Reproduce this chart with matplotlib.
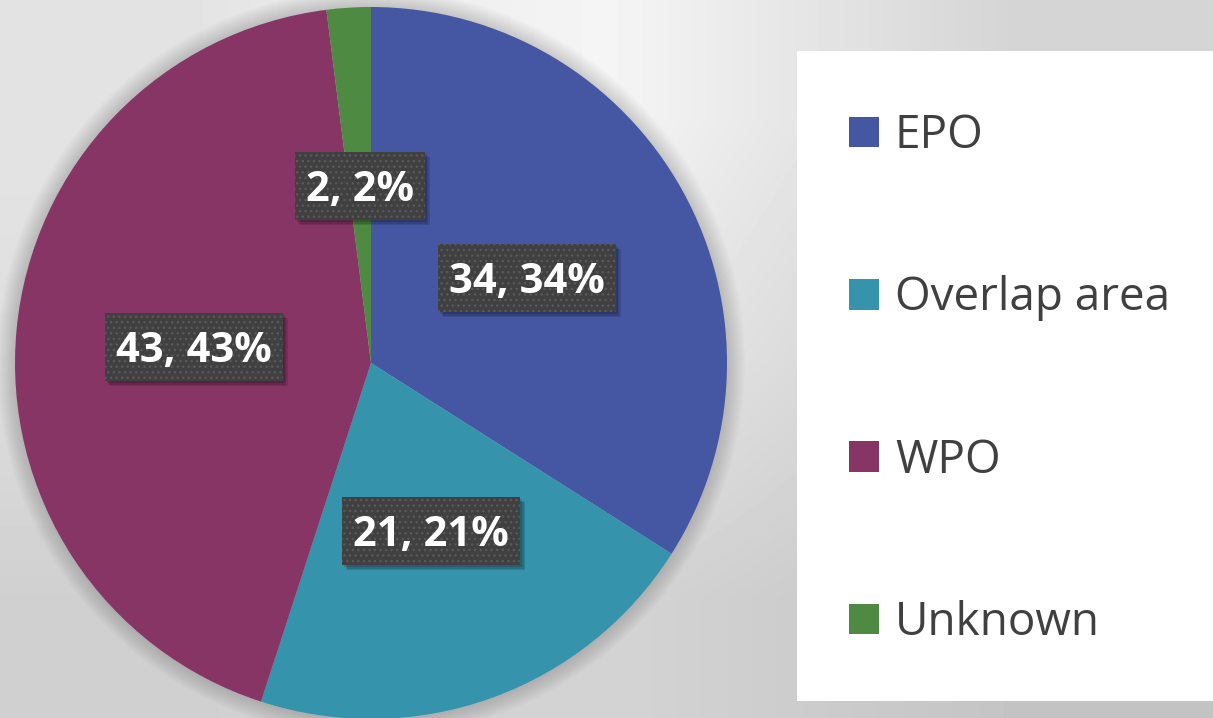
import matplotlib
matplotlib.use("Agg")
import matplotlib.pyplot as plt
import numpy as np
from matplotlib.patches import Rectangle, Circle
import matplotlib.transforms as mtrans

categories = ["EPO", "Overlap area", "WPO", "Unknown"]
values = [34, 21, 43, 2]
colors = ["#4557A3", "#3593AC", "#873565", "#4E8A41"]

W, H = 1213, 718
fig = plt.figure(figsize=(W / 100, H / 100), dpi=100)

# background gradient
bg_ax = fig.add_axes([0, 0, 1, 1], zorder=-10)
grid = np.array([[228, 245, 213],
                 [222, 232, 205],
                 [208, 212, 196]]) / 255.0
bg_ax.imshow(grid, cmap="gray", vmin=0, vmax=1, interpolation="bilinear",
             extent=[0, 1, 0, 1], aspect="auto", origin="upper")
bg_ax.axis("off")

# pie
cx, cy, r = 371, 363, 356
ax = fig.add_axes([(cx - r) / W, (H - cy - r) / H, 2 * r / W, 2 * r / H])
for i in range(10):
    ax.add_patch(Circle((0, 0), 1 + 0.005 * (i + 1), color="black", alpha=0.016,
                        zorder=0, clip_on=False, linewidth=0))
wedges, _ = ax.pie(values, colors=colors, startangle=90, counterclock=False,
                   radius=1, wedgeprops=dict(linewidth=0, zorder=1))
ax.set_xlim(-1, 1)
ax.set_ylim(-1, 1)
ax.set_aspect("equal")
ax.axis("off")

total = sum(values)
texts = []
for w, v in zip(wedges, values):
    ang = np.deg2rad((w.theta1 + w.theta2) / 2)
    x, y = 0.5 * np.cos(ang), 0.5 * np.sin(ang)
    txt = f"{v}, {v / total * 100:.0f}%"
    t = ax.text(x, y, txt, color="white", zorder=4, ha="center", va="center",
                fontsize=30, fontweight="bold", family="Open Sans")
    texts.append(t)

fig.canvas.draw()
ident = mtrans.IdentityTransform()
box_h = 68
text_shift = mtrans.offset_copy(ax.transData, fig=fig, x=0, y=-5, units="dots")
for t in texts:
    bb = t.get_window_extent()
    bw = bb.width + 22
    xc = (bb.x0 + bb.x1) / 2
    yc = (bb.y0 + bb.y1) / 2 - 1
    x0, y0 = xc - bw / 2, yc - box_h / 2
    for k, off in enumerate([2, 3.5, 5]):
        ax.add_patch(Rectangle((x0 + off, y0 - off), bw, box_h, transform=ident,
                               facecolor="black", alpha=0.13, edgecolor="none",
                               zorder=2.5, clip_on=False))
    ax.add_patch(Rectangle((x0, y0), bw, box_h, transform=ident,
                           facecolor="#404040", edgecolor="#595959", linewidth=0,
                           hatch="...", zorder=3, clip_on=False))
    t.set_transform(text_shift)

# legend box
fig.add_artist(Rectangle((797 / W, (H - 701) / H), (W - 797) / W + 0.01, 650 / H,
                         transform=fig.transFigure, facecolor="white",
                         edgecolor="none", zorder=1))
leg = fig.legend(wedges, categories, loc="upper left",
                 bbox_to_anchor=(849 / W, 1 - 113 / H),
                 frameon=False, borderpad=0, borderaxespad=0,
                 handlelength=0.65, handleheight=0.65, handletextpad=0.35,
                 labelspacing=2.54,
                 prop=dict(family="Open Sans", size=33))
leg.set_zorder(5)
for t in leg.get_texts():
    t.set_color("#404040")

fig.savefig("out.png", dpi=100)
